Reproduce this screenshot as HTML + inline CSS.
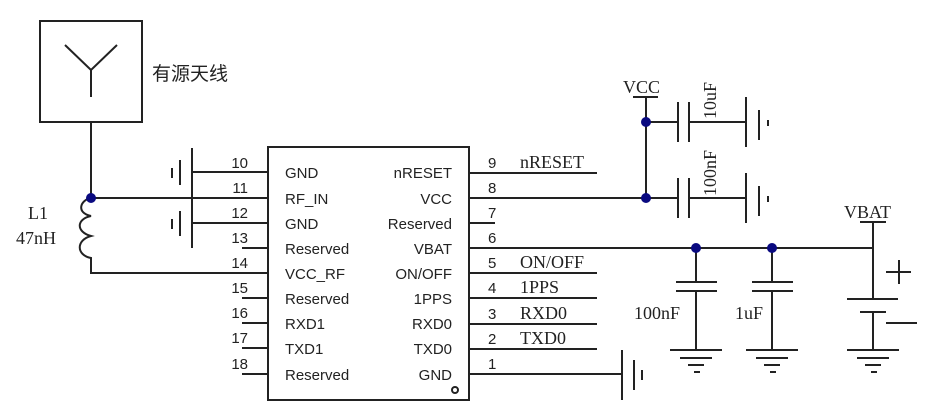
<!DOCTYPE html>
<html><head><meta charset="utf-8"><style>
html,body{margin:0;padding:0;background:#fff;}
svg{display:block}
.s{font-family:"Liberation Sans",sans-serif;font-size:15px;fill:#222}
.r{font-family:"Liberation Serif",serif;font-size:18px;fill:#222}
</style></head><body>
<svg width="930" height="405" viewBox="0 0 930 405" xmlns="http://www.w3.org/2000/svg">
<g stroke="#222" stroke-width="2" fill="none">
<rect x="40" y="21" width="102" height="101"/>
<path d="M65 45 L91 70 L117 45 M91 70 V97"/>
<path d="M91 122 V198 H268"/>
<path d="M91 198 C80 200 76 213 91 216 C76 219 76 232 91 236 C76 240 76 255 91 258 V273 H268"/>
<rect x="268" y="147" width="201" height="253"/>
<circle cx="455" cy="390" r="3"/>
<path d="M192 172 H268 M192 223 H268 M192 148 V248 M180 160 V185 M172 168 V178 M180 211 V236 M172 219 V229"/>
<path d="M242 248H268 M242 298H268 M242 323H268 M242 348H268 M242 374H268"/>
<path d="M469 173H597 M469 198H678 M469 223H495 M469 248H873 M469 273H597 M469 298H597 M469 324H597 M469 349H597 M469 374H622"/>
<path d="M622 350V400 M634 360V390 M642 370V380"/>
<path d="M633 97H658 M646 97V198 M646 122H678 M678 102V142 M689 102V142 M689 122H746 M689 198H746 M678 178V218 M689 178V218"/>
<path d="M746 97V147 M759 110V140 M768 120V126 M746 173V223 M759 186V216 M768 196V202"/>
<path d="M696 248V282 M676 282H717 M676 291H717 M696 291V350 M670 350H722 M680 358H712 M688 365H704 M694 372H700"/>
<path d="M772 248V282 M752 282H793 M752 291H793 M772 291V350 M746 350H798 M756 358H788 M764 365H780 M770 372H776"/>
<path d="M860 222H886 M873 222V299 M847 299H898 M860 312H886 M873 312V350 M847 350H899 M857 358H889 M865 365H881 M871 372H877"/>
<path d="M886 272H911 M899 260V284 M886 323H917"/>
</g>
<g fill="#0a0a80">
<circle cx="91" cy="198" r="5"/><circle cx="646" cy="122" r="5"/><circle cx="646" cy="198" r="5"/>
<circle cx="696" cy="248" r="5"/><circle cx="772" cy="248" r="5"/>
</g>
<text x="152" y="80" style="font-family:'Liberation Sans','Noto Sans CJK SC',sans-serif;font-size:19px;fill:#222">有源天线</text>
<text class="r" x="28" y="219">L1</text><text class="r" x="16" y="244">47nH</text>
<g class="s" text-anchor="end">
<text x="248" y="168">10</text><text x="248" y="193">11</text><text x="248" y="218">12</text><text x="248" y="243">13</text><text x="248" y="268">14</text><text x="248" y="293">15</text><text x="248" y="318">16</text><text x="248" y="343">17</text><text x="248" y="369">18</text>
<text x="452" y="178">nRESET</text><text x="452" y="204">VCC</text><text x="452" y="229">Reserved</text><text x="452" y="254">VBAT</text><text x="452" y="279">ON/OFF</text><text x="452" y="304">1PPS</text><text x="452" y="329">RXD0</text><text x="452" y="354">TXD0</text><text x="452" y="380">GND</text>
</g>
<g class="s">
<text x="285" y="178">GND</text><text x="285" y="204">RF_IN</text><text x="285" y="229">GND</text><text x="285" y="254">Reserved</text><text x="285" y="279">VCC_RF</text><text x="285" y="304">Reserved</text><text x="285" y="329">RXD1</text><text x="285" y="354">TXD1</text><text x="285" y="380">Reserved</text>
<text x="488" y="168">9</text><text x="488" y="193">8</text><text x="488" y="218">7</text><text x="488" y="243">6</text><text x="488" y="268">5</text><text x="488" y="293">4</text><text x="488" y="319">3</text><text x="488" y="344">2</text><text x="488" y="369">1</text>
</g>
<g class="r">
<text x="520" y="168">nRESET</text><text x="520" y="268">ON/OFF</text><text x="520" y="293">1PPS</text><text x="520" y="319">RXD0</text><text x="520" y="344">TXD0</text>
<text x="623" y="93">VCC</text><text x="844" y="218">VBAT</text>
<text x="634" y="319">100nF</text><text x="735" y="319">1uF</text>
<text transform="translate(716,119) rotate(-90)">10uF</text>
<text transform="translate(716,196) rotate(-90)">100nF</text>
</g>
</svg>
</body></html>
